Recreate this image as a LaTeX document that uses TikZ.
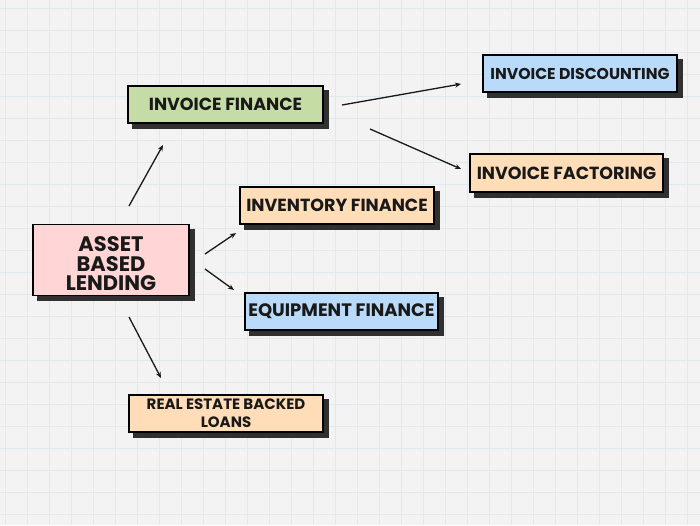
\documentclass[tikz,border=0pt]{standalone}
\usepackage{fontspec}
\setmainfont{Poppins}
\usetikzlibrary{shadows,arrows.meta}
\definecolor{bgc}{HTML}{F3F3F3}
\definecolor{gridc}{HTML}{DDEBEC}
\definecolor{pinkc}{HTML}{FFD5D6}
\definecolor{greenc}{HTML}{C6DCA6}
\definecolor{peachc}{HTML}{FFDDB8}
\definecolor{bluec}{HTML}{B9DAF8}
\definecolor{shadowc}{HTML}{303030}
\newcommand{\lowerby}[2]{\raisebox{-#1}[\height][\depth]{#2}}
\tikzset{
  box/.style={draw=black, line width=1.4pt, align=center, inner sep=0pt,
    font=\bfseries\fontsize{17.5}{18}\selectfont, text=black!90,
    general shadow={fill=shadowc, draw=shadowc, line width=1.4pt, shadow xshift=5pt, shadow yshift=-5pt}},
  conn/.style={line width=1.3pt, -{Stealth[length=6pt,width=5pt]}, black!90}
}
\begin{document}
\begin{tikzpicture}[x=1pt,y=-1pt]
\fill[bgc] (0,0) rectangle (700,525);
\useasboundingbox (0,0) rectangle (700,525);
\foreach \i in {0,...,32} {\draw[gridc, line width=0.6pt] (\i*22+5,0) -- (\i*22+5,525);}
\foreach \j in {0,...,24} {\draw[gridc, line width=0.6pt] (0,\j*22+8) -- (700,\j*22+8);}

\node[box, fill=pinkc, minimum width=156pt, minimum height=71pt,
  font=\bfseries\fontsize{21}{19.5}\selectfont] (abl) at (111,260)
  {\lowerby{4pt}{ASSET}\\\lowerby{4pt}{BASED}\\\lowerby{4pt}{LENDING}};
\node[box, fill=greenc, minimum width=195pt, minimum height=37pt] (if) at (225.5,104.5) {INVOICE FINANCE};
\node[box, fill=peachc, minimum width=194pt, minimum height=37pt] (inv) at (337,205.5) {INVENTORY FINANCE};
\node[box, fill=bluec, minimum width=194pt, minimum height=37pt,
  font=\bfseries\fontsize{15.7}{18}\selectfont] (id) at (580,73.5) {INVOICE DISCOUNTING};
\node[box, fill=peachc, minimum width=193pt, minimum height=38pt] (ifa) at (566.5,173) {INVOICE FACTORING};
\node[box, fill=bluec, minimum width=193pt, minimum height=37pt,
  font=\bfseries\fontsize{18}{18}\selectfont] (eq) at (341.5,311.5) {EQUIPMENT FINANCE};
\node[box, fill=peachc, minimum width=194pt, minimum height=37pt,
  font=\bfseries\fontsize{15}{18}\selectfont] (re) at (226,413.5) {REAL ESTATE BACKED\\LOANS};

\coordinate (a1s) at (129,206); \coordinate (a1e) at (163,145);
\coordinate (a2s) at (342,105); \coordinate (a2e) at (461,84);
\coordinate (a3s) at (370,129); \coordinate (a3e) at (461,169);
\coordinate (a4s) at (205,254); \coordinate (a4e) at (236,233);
\coordinate (a5s) at (205,269); \coordinate (a5e) at (234,290);
\coordinate (a6s) at (129,317); \coordinate (a6e) at (161,378);
\draw[conn] (a1s) -- (a1e);
\draw[conn] (a2s) -- (a2e);
\draw[conn] (a3s) -- (a3e);
\draw[conn] (a4s) -- (a4e);
\draw[conn] (a5s) -- (a5e);
\draw[conn] (a6s) -- (a6e);
\end{tikzpicture}
\end{document}
